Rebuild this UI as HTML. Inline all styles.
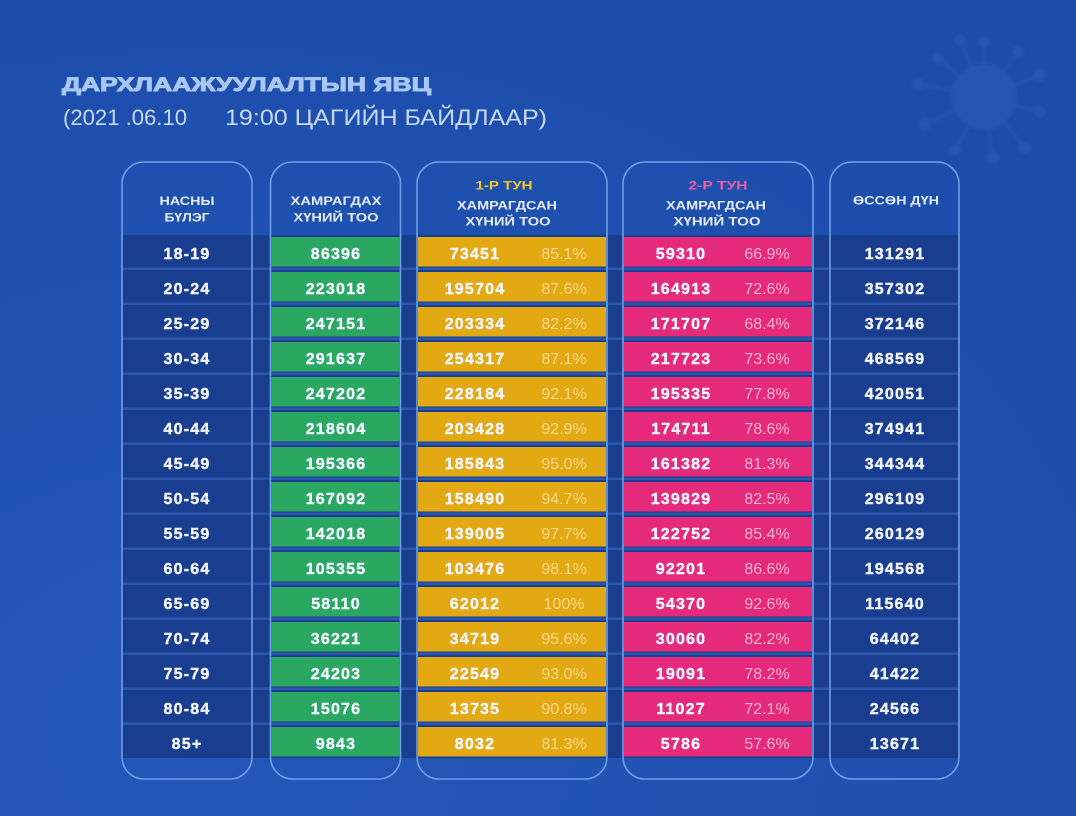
<!DOCTYPE html>
<html>
<head>
<meta charset="utf-8">
<style>
html,body{margin:0;padding:0;background:#1e50ae;}
svg{display:block;}
.t{font-family:"Liberation Sans",sans-serif;}
.h{font-family:"Liberation Sans",sans-serif;font-weight:bold;font-size:12px;fill:#e4ecfb;text-anchor:middle;}
.n{font-family:"Liberation Sans",sans-serif;font-weight:bold;font-size:16px;letter-spacing:1.2px;fill:#f3f6ff;stroke:#f3f6ff;stroke-width:0.4;text-anchor:middle;}
.py{font-family:"Liberation Sans",sans-serif;font-size:16px;fill:#f6d98e;text-anchor:middle;}
.pp{font-family:"Liberation Sans",sans-serif;font-size:16px;fill:#f8b3d3;text-anchor:middle;}
</style>
</head>
<body>
<svg width="1076" height="816" viewBox="0 0 1076 816" xmlns="http://www.w3.org/2000/svg">
<defs>
<radialGradient id="bg" cx="0.2" cy="0.9" r="1">
<stop offset="0" stop-color="#2357b8"/>
<stop offset="1" stop-color="#1c4dab"/>
</radialGradient>
<filter id="blur"><feGaussianBlur stdDeviation="1.5"/></filter>
</defs>
<rect x="0" y="0" width="1076" height="816" fill="url(#bg)"/>

<!-- virus watermark -->
<g fill="#2d62c2" stroke="#2d62c2" opacity="0.45" filter="url(#blur)">
<circle cx="984" cy="97" r="33" stroke="none"/>
<g stroke-width="2.5">
<line x1="984" y1="97" x2="984" y2="42"/>
<line x1="984" y1="97" x2="1018" y2="52"/>
<line x1="984" y1="97" x2="1040" y2="75"/>
<line x1="984" y1="97" x2="1040" y2="112"/>
<line x1="984" y1="97" x2="1025" y2="148"/>
<line x1="984" y1="97" x2="993" y2="158"/>
<line x1="984" y1="97" x2="955" y2="150"/>
<line x1="984" y1="97" x2="925" y2="124"/>
<line x1="984" y1="97" x2="918" y2="84"/>
<line x1="984" y1="97" x2="938" y2="58"/>
<line x1="984" y1="97" x2="960" y2="40"/>
</g>
<g stroke="none">
<circle cx="984" cy="42" r="6"/>
<circle cx="1018" cy="52" r="6"/>
<circle cx="1040" cy="75" r="6"/>
<circle cx="1040" cy="112" r="6"/>
<circle cx="1025" cy="148" r="6"/>
<circle cx="993" cy="158" r="6"/>
<circle cx="955" cy="150" r="6"/>
<circle cx="925" cy="124" r="6"/>
<circle cx="918" cy="84" r="6"/>
<circle cx="938" cy="58" r="6"/>
<circle cx="960" cy="40" r="6"/>
</g>
</g>

<!-- title -->
<text class="t" x="62" y="91" font-size="19" font-weight="bold" fill="#a9c7f4" stroke="#a9c7f4" stroke-width="0.9" textLength="369" lengthAdjust="spacingAndGlyphs">ДАРХЛААЖУУЛАЛТЫН ЯВЦ</text>
<text class="t" x="63" y="125" font-size="22" fill="#c9d9f3" textLength="124" lengthAdjust="spacingAndGlyphs">(2021 .06.10</text>
<text class="t" x="225" y="125" font-size="22" fill="#c9d9f3" textLength="322" lengthAdjust="spacingAndGlyphs">19:00 ЦАГИЙН БАЙДЛААР)</text>

<!-- row band -->
<rect x="122" y="235" width="838" height="523" fill="#193e90"/>
<g fill="#2a56ab">
<rect x="122" y="267.5" width="838" height="2.5"/>
<rect x="122" y="302.5" width="838" height="2.5"/>
<rect x="122" y="337.5" width="838" height="2.5"/>
<rect x="122" y="372.5" width="838" height="2.5"/>
<rect x="122" y="407.5" width="838" height="2.5"/>
<rect x="122" y="442.5" width="838" height="2.5"/>
<rect x="122" y="477.5" width="838" height="2.5"/>
<rect x="122" y="512.5" width="838" height="2.5"/>
<rect x="122" y="547.5" width="838" height="2.5"/>
<rect x="122" y="582.5" width="838" height="2.5"/>
<rect x="122" y="617.5" width="838" height="2.5"/>
<rect x="122" y="652.5" width="838" height="2.5"/>
<rect x="122" y="687.5" width="838" height="2.5"/>
<rect x="122" y="722.5" width="838" height="2.5"/>
</g>

<!-- colored cells -->
<g fill="#2aa862">
<rect x="271.5" y="237" width="128" height="29.5"/><rect x="271.5" y="272" width="128" height="29.5"/><rect x="271.5" y="307" width="128" height="29.5"/><rect x="271.5" y="342" width="128" height="29.5"/><rect x="271.5" y="377" width="128" height="29.5"/><rect x="271.5" y="412" width="128" height="29.5"/><rect x="271.5" y="447" width="128" height="29.5"/><rect x="271.5" y="482" width="128" height="29.5"/><rect x="271.5" y="517" width="128" height="29.5"/><rect x="271.5" y="552" width="128" height="29.5"/><rect x="271.5" y="587" width="128" height="29.5"/><rect x="271.5" y="622" width="128" height="29.5"/><rect x="271.5" y="657" width="128" height="29.5"/><rect x="271.5" y="692" width="128" height="29.5"/><rect x="271.5" y="727" width="128" height="29.5"/>
</g>
<g fill="#e3a913">
<rect x="418" y="237" width="188" height="29.5"/><rect x="418" y="272" width="188" height="29.5"/><rect x="418" y="307" width="188" height="29.5"/><rect x="418" y="342" width="188" height="29.5"/><rect x="418" y="377" width="188" height="29.5"/><rect x="418" y="412" width="188" height="29.5"/><rect x="418" y="447" width="188" height="29.5"/><rect x="418" y="482" width="188" height="29.5"/><rect x="418" y="517" width="188" height="29.5"/><rect x="418" y="552" width="188" height="29.5"/><rect x="418" y="587" width="188" height="29.5"/><rect x="418" y="622" width="188" height="29.5"/><rect x="418" y="657" width="188" height="29.5"/><rect x="418" y="692" width="188" height="29.5"/><rect x="418" y="727" width="188" height="29.5"/>
</g>
<g fill="#e62a7b">
<rect x="624" y="237" width="188" height="29.5"/><rect x="624" y="272" width="188" height="29.5"/><rect x="624" y="307" width="188" height="29.5"/><rect x="624" y="342" width="188" height="29.5"/><rect x="624" y="377" width="188" height="29.5"/><rect x="624" y="412" width="188" height="29.5"/><rect x="624" y="447" width="188" height="29.5"/><rect x="624" y="482" width="188" height="29.5"/><rect x="624" y="517" width="188" height="29.5"/><rect x="624" y="552" width="188" height="29.5"/><rect x="624" y="587" width="188" height="29.5"/><rect x="624" y="622" width="188" height="29.5"/><rect x="624" y="657" width="188" height="29.5"/><rect x="624" y="692" width="188" height="29.5"/><rect x="624" y="727" width="188" height="29.5"/>
</g>

<!-- column boxes -->
<g fill="none" stroke="#6e9fe8" stroke-width="1.6">
<rect x="122" y="162" width="130" height="617" rx="22" ry="22"/>
<rect x="270.5" y="162" width="130" height="617" rx="22" ry="22"/>
<rect x="417" y="162" width="190" height="617" rx="22" ry="22"/>
<rect x="623" y="162" width="190" height="617" rx="22" ry="22"/>
<rect x="830" y="162" width="129" height="617" rx="22" ry="22"/>
</g>

<!-- headers -->
<text class="h" x="187" y="205" textLength="55" lengthAdjust="spacingAndGlyphs">НАСНЫ</text>
<text class="h" x="187" y="221.5" textLength="45" lengthAdjust="spacingAndGlyphs">БҮЛЭГ</text>
<text class="h" x="336" y="205" textLength="91" lengthAdjust="spacingAndGlyphs">ХАМРАГДАХ</text>
<text class="h" x="336" y="221.5" textLength="85" lengthAdjust="spacingAndGlyphs">ХҮНИЙ ТОО</text>
<text class="h" x="504" y="189.5" textLength="57" lengthAdjust="spacingAndGlyphs" style="fill:#f6c928">1-Р ТУН</text>
<text class="h" x="507" y="209.5" textLength="100" lengthAdjust="spacingAndGlyphs">ХАМРАГДСАН</text>
<text class="h" x="508" y="225.5" textLength="85" lengthAdjust="spacingAndGlyphs">ХҮНИЙ ТОО</text>
<text class="h" x="718" y="189.5" textLength="59" lengthAdjust="spacingAndGlyphs" style="fill:#f25aa8">2-Р ТУН</text>
<text class="h" x="716" y="209.5" textLength="100" lengthAdjust="spacingAndGlyphs">ХАМРАГДСАН</text>
<text class="h" x="717" y="225.5" textLength="87" lengthAdjust="spacingAndGlyphs">ХҮНИЙ ТОО</text>
<text class="h" x="896" y="204.5" textLength="86" lengthAdjust="spacingAndGlyphs">ӨССӨН ДҮН</text>

<!-- data rows -->
<g>
<text class="n" x="187" y="259">18-19</text><text class="n" x="336" y="259">86396</text><text class="n" x="475" y="259">73451</text><text class="py" x="564" y="259">85.1%</text><text class="n" x="681" y="259">59310</text><text class="pp" x="767" y="259">66.9%</text><text class="n" x="895" y="259">131291</text>
<text class="n" x="187" y="294">20-24</text><text class="n" x="336" y="294">223018</text><text class="n" x="475" y="294">195704</text><text class="py" x="564" y="294">87.6%</text><text class="n" x="681" y="294">164913</text><text class="pp" x="767" y="294">72.6%</text><text class="n" x="895" y="294">357302</text>
<text class="n" x="187" y="329">25-29</text><text class="n" x="336" y="329">247151</text><text class="n" x="475" y="329">203334</text><text class="py" x="564" y="329">82.2%</text><text class="n" x="681" y="329">171707</text><text class="pp" x="767" y="329">68.4%</text><text class="n" x="895" y="329">372146</text>
<text class="n" x="187" y="364">30-34</text><text class="n" x="336" y="364">291637</text><text class="n" x="475" y="364">254317</text><text class="py" x="564" y="364">87.1%</text><text class="n" x="681" y="364">217723</text><text class="pp" x="767" y="364">73.6%</text><text class="n" x="895" y="364">468569</text>
<text class="n" x="187" y="399">35-39</text><text class="n" x="336" y="399">247202</text><text class="n" x="475" y="399">228184</text><text class="py" x="564" y="399">92.1%</text><text class="n" x="681" y="399">195335</text><text class="pp" x="767" y="399">77.8%</text><text class="n" x="895" y="399">420051</text>
<text class="n" x="187" y="434">40-44</text><text class="n" x="336" y="434">218604</text><text class="n" x="475" y="434">203428</text><text class="py" x="564" y="434">92.9%</text><text class="n" x="681" y="434">174711</text><text class="pp" x="767" y="434">78.6%</text><text class="n" x="895" y="434">374941</text>
<text class="n" x="187" y="469">45-49</text><text class="n" x="336" y="469">195366</text><text class="n" x="475" y="469">185843</text><text class="py" x="564" y="469">95.0%</text><text class="n" x="681" y="469">161382</text><text class="pp" x="767" y="469">81.3%</text><text class="n" x="895" y="469">344344</text>
<text class="n" x="187" y="504">50-54</text><text class="n" x="336" y="504">167092</text><text class="n" x="475" y="504">158490</text><text class="py" x="564" y="504">94.7%</text><text class="n" x="681" y="504">139829</text><text class="pp" x="767" y="504">82.5%</text><text class="n" x="895" y="504">296109</text>
<text class="n" x="187" y="539">55-59</text><text class="n" x="336" y="539">142018</text><text class="n" x="475" y="539">139005</text><text class="py" x="564" y="539">97.7%</text><text class="n" x="681" y="539">122752</text><text class="pp" x="767" y="539">85.4%</text><text class="n" x="895" y="539">260129</text>
<text class="n" x="187" y="574">60-64</text><text class="n" x="336" y="574">105355</text><text class="n" x="475" y="574">103476</text><text class="py" x="564" y="574">98.1%</text><text class="n" x="681" y="574">92201</text><text class="pp" x="767" y="574">86.6%</text><text class="n" x="895" y="574">194568</text>
<text class="n" x="187" y="609">65-69</text><text class="n" x="336" y="609">58110</text><text class="n" x="475" y="609">62012</text><text class="py" x="564" y="609">100%</text><text class="n" x="681" y="609">54370</text><text class="pp" x="767" y="609">92.6%</text><text class="n" x="895" y="609">115640</text>
<text class="n" x="187" y="644">70-74</text><text class="n" x="336" y="644">36221</text><text class="n" x="475" y="644">34719</text><text class="py" x="564" y="644">95.6%</text><text class="n" x="681" y="644">30060</text><text class="pp" x="767" y="644">82.2%</text><text class="n" x="895" y="644">64402</text>
<text class="n" x="187" y="679">75-79</text><text class="n" x="336" y="679">24203</text><text class="n" x="475" y="679">22549</text><text class="py" x="564" y="679">93.0%</text><text class="n" x="681" y="679">19091</text><text class="pp" x="767" y="679">78.2%</text><text class="n" x="895" y="679">41422</text>
<text class="n" x="187" y="714">80-84</text><text class="n" x="336" y="714">15076</text><text class="n" x="475" y="714">13735</text><text class="py" x="564" y="714">90.8%</text><text class="n" x="681" y="714">11027</text><text class="pp" x="767" y="714">72.1%</text><text class="n" x="895" y="714">24566</text>
<text class="n" x="187" y="749">85+</text><text class="n" x="336" y="749">9843</text><text class="n" x="475" y="749">8032</text><text class="py" x="564" y="749">81.3%</text><text class="n" x="681" y="749">5786</text><text class="pp" x="767" y="749">57.6%</text><text class="n" x="895" y="749">13671</text>
</g>
</svg>
</body>
</html>
